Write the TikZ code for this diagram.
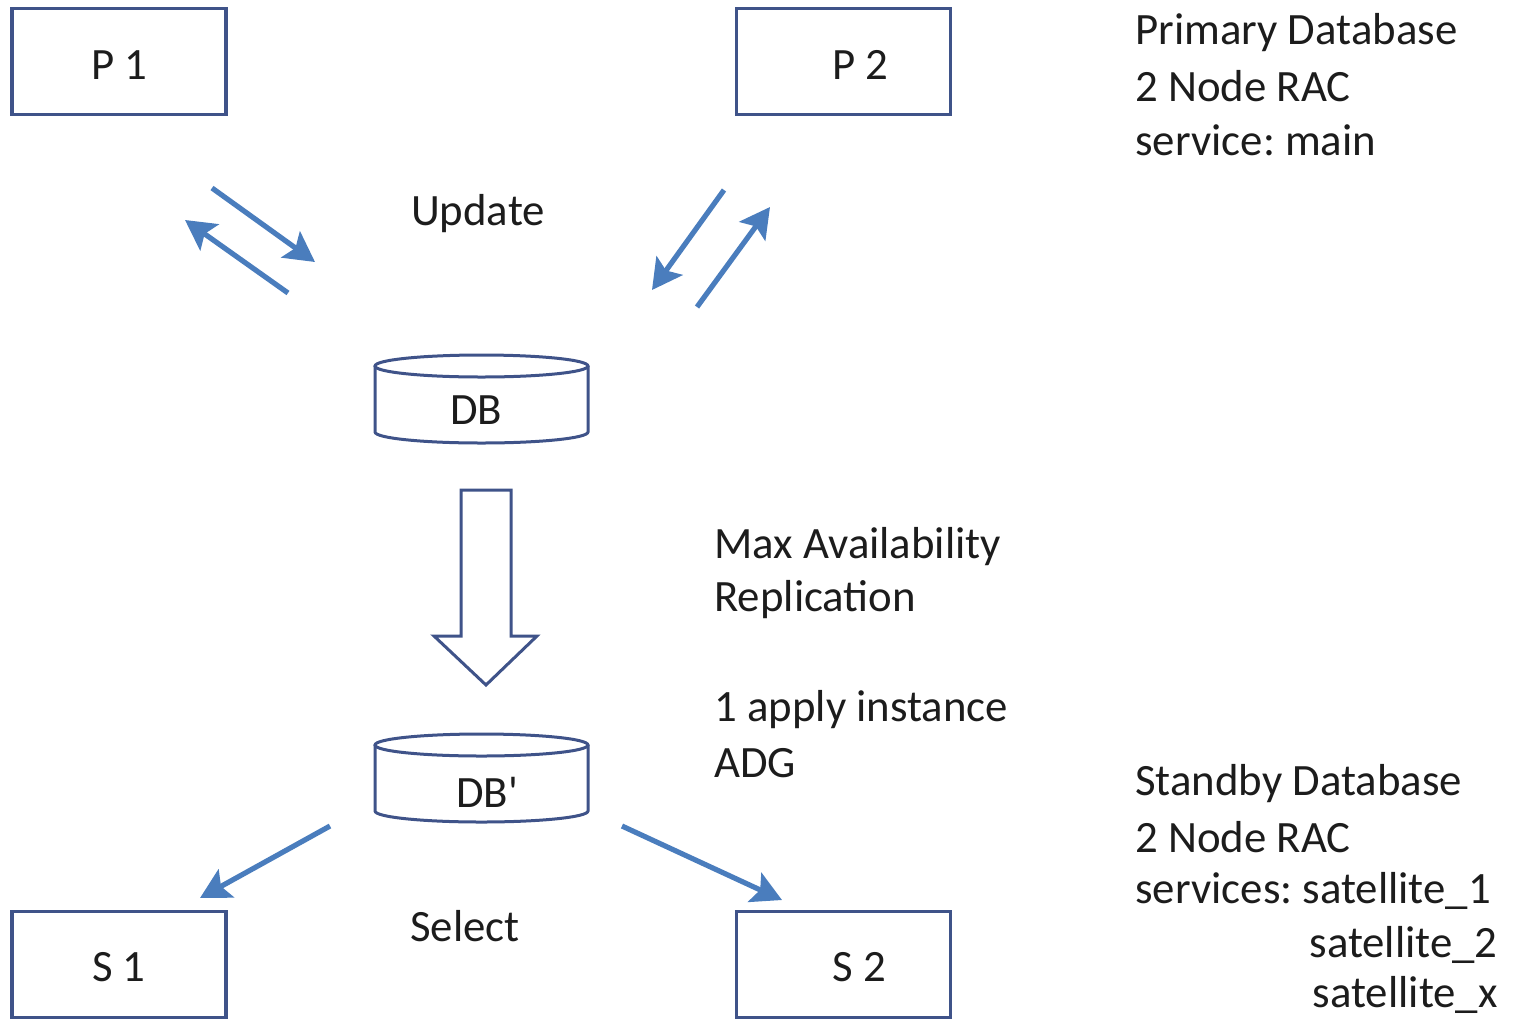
\documentclass[tikz,border=0pt]{standalone}
\usepackage{fontspec}
\setmainfont{Carlito}
\usetikzlibrary{arrows.meta}
\definecolor{boxline}{HTML}{3F5389}
\definecolor{flow}{HTML}{4A7DBD}
\definecolor{ink}{HTML}{1C1C1C}
\tikzset{
  txt/.style={text=ink,font=\fontsize{22.4}{27}\selectfont\frenchspacing,inner sep=0pt,yshift=-1.5pt},
  box/.style={draw=boxline,line width=1.6pt,minimum width=107pt,minimum height=53pt,inner sep=0pt},
  flowarrow/.style={draw=flow,line width=2.6pt,-{Stealth[length=15pt,width=16pt,inset=3pt]}},
  dbline/.style={draw=boxline,line width=1.5pt},
}
\begin{document}
\begin{tikzpicture}[x=0.5pt,y=-0.5pt]
\useasboundingbox (0,0) rectangle (1516,1019);

% server boxes
\node[box,label={[txt,yshift=-0.5pt]center:P 1}] (p1) at (119,61.5) {};
\node[box,label={[txt,xshift=8.5pt]center:P 2}] (p2) at (843.5,61.5) {};
\node[box,label={[txt]center:S 1}] (s1) at (119,964.5) {};
\node[box,label={[txt,xshift=8pt]center:S 2}] (s2) at (843.5,964.5) {};

% primary database cylinder
\draw[dbline,fill=white] (375,366) -- (375,432) arc[start angle=180,end angle=0,x radius=106.5,y radius=11] -- (588,366);
\draw[dbline] (481.5,366) ellipse[x radius=106.5,y radius=11];
\node[txt] (db) at (476,407) {DB};

% standby database cylinder
\draw[dbline,fill=white] (375,745) -- (375,811) arc[start angle=180,end angle=0,x radius=106.5,y radius=11] -- (588,745);
\draw[dbline] (481.5,745) ellipse[x radius=106.5,y radius=11];
\node[txt] (dbs) at (487,789) {DB\textquotesingle};

% replication block arrow
\draw[dbline,line join=miter,fill=white] (461,490) -- (511,490) -- (511,636) -- (537,636) -- (486,685) -- (434,636) -- (461,636) -- cycle;

% free ends of the update / select arrows
\coordinate (u1a) at (212,188); \coordinate (u1b) at (315,262);
\coordinate (u2a) at (288,293); \coordinate (u2b) at (185,220);
\coordinate (u3a) at (724,190); \coordinate (u3b) at (652,290);
\coordinate (u4a) at (697,307); \coordinate (u4b) at (770,207);
\coordinate (r1a) at (330,826); \coordinate (r1b) at (200,898);
\coordinate (r2a) at (622,826); \coordinate (r2b) at (782,900);

\draw[flowarrow] (u1a) -- (u1b);
\draw[flowarrow] (u2a) -- (u2b);
\draw[flowarrow] (u3a) -- (u3b);
\draw[flowarrow] (u4a) -- (u4b);
\draw[flowarrow] (r1a) -- (r1b);
\draw[flowarrow] (r2a) -- (r2b);

% labels
\node[txt] (upd) at (478,211) {Update};
\node[txt] (sel) at (465,923) {Select};

\node[txt,anchor=west] (ma1) at (714,544) {Max Availability};
\node[txt,anchor=west] (ma2) at (714,597) {Replication};
\node[txt,anchor=west] (ap1) at (714,707) {1 apply instance};
\node[txt,anchor=west] (ap2) at (714,760) {ADG};

\node[txt,anchor=west] (pr1) at (1135,30) {Primary Database};
\node[txt,anchor=west] (pr2) at (1135,83) {2 Node RAC};
\node[txt,anchor=west] (pr3) at (1135,137) {service: main};

\node[txt,anchor=west] (sb1) at (1135,781) {Standby Database};
\node[txt,anchor=west] (sb2) at (1135,834) {2 Node RAC};
\node[txt,anchor=west] (sb3) at (1135,888) {services: satellite\_1};
\node[txt,anchor=east] (sb4) at (1498,942) {satellite\_2};
\node[txt,anchor=east] (sb5) at (1498,992) {satellite\_x};
\end{tikzpicture}
\end{document}
